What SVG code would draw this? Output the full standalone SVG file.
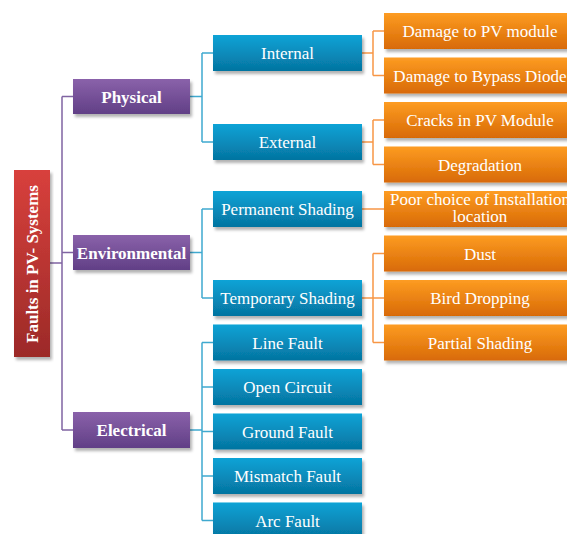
<svg xmlns="http://www.w3.org/2000/svg" width="567" height="534" viewBox="0 0 567 534">
  <defs>
    <linearGradient id="gRed" x1="0" y1="0" x2="0" y2="1">
      <stop offset="0" stop-color="#d8403c"/>
      <stop offset="1" stop-color="#9c2a28"/>
    </linearGradient>
    <linearGradient id="gPurple" x1="0" y1="0" x2="0" y2="1">
      <stop offset="0" stop-color="#8a62aa"/>
      <stop offset="1" stop-color="#613f86"/>
    </linearGradient>
    <linearGradient id="gBlue" x1="0" y1="0" x2="0" y2="1">
      <stop offset="0" stop-color="#0ca3d6"/>
      <stop offset="1" stop-color="#0574a0"/>
    </linearGradient>
    <linearGradient id="gOrange" x1="0" y1="0" x2="0" y2="1">
      <stop offset="0" stop-color="#fd9c22"/>
      <stop offset="1" stop-color="#d86a06"/>
    </linearGradient>
    <filter id="shadow" x="-10%" y="-20%" width="120%" height="150%">
      <feDropShadow dx="2" dy="3" stdDeviation="1.8" flood-color="#000" flood-opacity="0.3"/>
    </filter>
  </defs>
  <style>
    .box { filter: url(#shadow); }
    .red { fill: url(#gRed); }
    .purple { fill: url(#gPurple); }
    .blue { fill: url(#gBlue); }
    .orange { fill: url(#gOrange); }
    text { font-family: "Liberation Serif", "Times New Roman", serif; font-size: 17px; fill: #ffffff; text-anchor: middle; }
    .bold { font-weight: bold; }
    .lp { fill: none; stroke: #8064a2; stroke-width: 1.5; }
    .lb { fill: none; stroke: #3fa9cf; stroke-width: 1.5; }
    .lo { fill: none; stroke: #f79646; stroke-width: 1.5; }
  </style>

  <rect width="567" height="534" fill="#ffffff"/>

  <!-- connectors -->
  <g id="connectors">
    <!-- root to categories -->
    <path class="lp" d="M50,263 H62 M62,96.5 V430 M62,96.5 H73 M62,252.5 H73 M62,430 H73"/>
    <!-- Physical -->
    <path class="lb" d="M190,96.5 H202 M202,53 V142 M202,53 H213 M202,142 H213"/>
    <!-- Environmental -->
    <path class="lb" d="M190,252.5 H202 M202,209 V298 M202,209 H213 M202,298 H213"/>
    <!-- Electrical -->
    <path class="lb" d="M190,430 H202 M202,342.5 V520.5 M202,342.5 H213 M202,387 H213 M202,431.5 H213 M202,476 H213 M202,520.5 H213"/>
    <!-- Internal -->
    <path class="lo" d="M362,53 H373 M373,31 V75.5 M373,31 H384 M373,75.5 H384"/>
    <!-- External -->
    <path class="lo" d="M362,142 H373 M373,120 V164.5 M373,120 H384 M373,164.5 H384"/>
    <!-- Permanent Shading -->
    <path class="lo" d="M362,209 H384"/>
    <!-- Temporary Shading -->
    <path class="lo" d="M362,298 H384 M373,253.5 V342.5 M373,253.5 H384 M373,342.5 H384"/>
  </g>

  <!-- root -->
  <g id="root">
    <rect class="box red" x="14" y="170" width="36" height="187"/>
    <text class="bold" transform="translate(38,264) rotate(-90)">Faults in PV- Systems</text>
  </g>

  <!-- categories -->
  <g id="physical">
    <rect class="box purple" x="73" y="79" width="117" height="35"/>
    <text class="bold" x="131.5" y="102.5">Physical</text>
  </g>
  <g id="environmental">
    <rect class="box purple" x="73" y="235" width="117" height="35"/>
    <text class="bold" x="131.5" y="258.5">Environmental</text>
  </g>
  <g id="electrical">
    <rect class="box purple" x="73" y="412" width="117" height="36"/>
    <text class="bold" x="131.5" y="436">Electrical</text>
  </g>

  <!-- sub-categories -->
  <g id="internal">
    <rect class="box blue" x="213" y="35" width="149" height="36"/>
    <text x="287.5" y="59">Internal</text>
  </g>
  <g id="external">
    <rect class="box blue" x="213" y="124" width="149" height="36"/>
    <text x="287.5" y="148">External</text>
  </g>
  <g id="permanent-shading">
    <rect class="box blue" x="213" y="191" width="149" height="36"/>
    <text x="287.5" y="215">Permanent Shading</text>
  </g>
  <g id="temporary-shading">
    <rect class="box blue" x="213" y="280" width="149" height="36"/>
    <text x="287.5" y="304">Temporary Shading</text>
  </g>
  <g id="line-fault">
    <rect class="box blue" x="213" y="324.5" width="149" height="36"/>
    <text x="287.5" y="348.5">Line Fault</text>
  </g>
  <g id="open-circuit">
    <rect class="box blue" x="213" y="369" width="149" height="36"/>
    <text x="287.5" y="393">Open Circuit</text>
  </g>
  <g id="ground-fault">
    <rect class="box blue" x="213" y="413.5" width="149" height="36"/>
    <text x="287.5" y="437.5">Ground Fault</text>
  </g>
  <g id="mismatch-fault">
    <rect class="box blue" x="213" y="458" width="149" height="36"/>
    <text x="287.5" y="482">Mismatch Fault</text>
  </g>
  <g id="arc-fault">
    <rect class="box blue" x="213" y="502.5" width="149" height="36"/>
    <text x="287.5" y="526.5">Arc Fault</text>
  </g>

  <!-- leaf faults -->
  <g id="damage-pv-module">
    <rect class="box orange" x="384" y="13" width="192" height="36"/>
    <text x="480" y="37">Damage to PV module</text>
  </g>
  <g id="damage-bypass-diode">
    <rect class="box orange" x="384" y="57.5" width="192" height="36"/>
    <text x="480" y="81.5">Damage to Bypass Diode</text>
  </g>
  <g id="cracks">
    <rect class="box orange" x="384" y="102" width="192" height="36"/>
    <text x="480" y="126">Cracks in PV Module</text>
  </g>
  <g id="degradation">
    <rect class="box orange" x="384" y="146.5" width="192" height="36"/>
    <text x="480" y="170.5">Degradation</text>
  </g>
  <g id="poor-choice">
    <rect class="box orange" x="384" y="191" width="192" height="36"/>
    <text x="480" y="205">Poor choice of Installation</text>
    <text x="480" y="222">location</text>
  </g>
  <g id="dust">
    <rect class="box orange" x="384" y="235.5" width="192" height="36"/>
    <text x="480" y="259.5">Dust</text>
  </g>
  <g id="bird-dropping">
    <rect class="box orange" x="384" y="280" width="192" height="36"/>
    <text x="480" y="304">Bird Dropping</text>
  </g>
  <g id="partial-shading">
    <rect class="box orange" x="384" y="324.5" width="192" height="36"/>
    <text x="480" y="348.5">Partial Shading</text>
  </g>
</svg>
